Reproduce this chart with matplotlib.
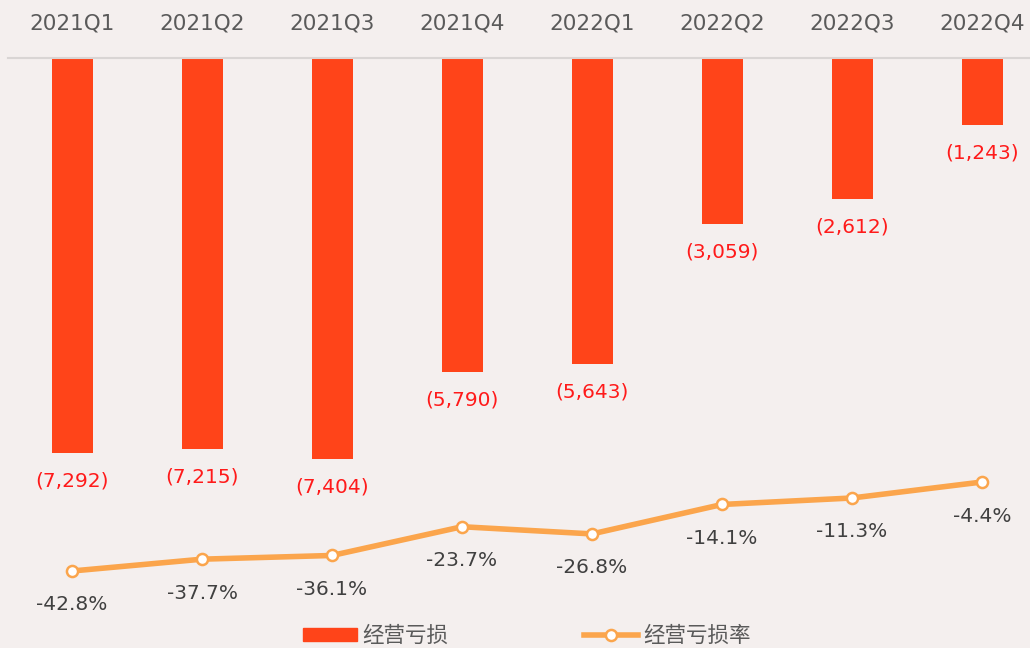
import matplotlib
matplotlib.use("Agg")
import matplotlib.pyplot as plt
from matplotlib.lines import Line2D
from matplotlib.patches import Patch

plt.rcParams["font.family"] = ["DejaVu Sans", "Noto Sans CJK SC"]

quarters = ["2021Q1", "2021Q2", "2021Q3", "2021Q4", "2022Q1", "2022Q2", "2022Q3", "2022Q4"]
op_loss = [-7292, -7215, -7404, -5790, -5643, -3059, -2612, -1243]
loss_rate = [-42.8, -37.7, -36.1, -23.7, -26.8, -14.1, -11.3, -4.4]

BG = "#f4efee"; BAR = "#ff4419"; LINE = "#fba54c"; RED = "#ff1a1a"; INK = "#404040"; TICK = "#5a5a5a"

W, H = 1030, 648
fig = plt.figure(figsize=(W / 100, H / 100), dpi=100, facecolor=BG)
ax = fig.add_axes([0, 0, 1, 1])
ax.set_facecolor(BG)
for s in ax.spines.values():
    s.set_visible(False)

x = list(range(len(quarters)))
# pixel mapping: bar centres at 72 + 130*i, zero line at y=58 px
px_per_x = 130.0
ax.set_xlim(-72 / px_per_x, (W - 72) / px_per_x)
u_per_px = 7292 / (453 - 58)
ax.set_ylim(-(H - 58) * u_per_px, 58 * u_per_px)

ax.bar(x, op_loss, width=41 / px_per_x, color=BAR, zorder=2)
ax.axhline(0, xmin=8 / W, xmax=1, color="#d9d5d4", lw=1.5, zorder=3)
for i, v in enumerate(op_loss):
    ax.annotate(f"({abs(v):,})", (i, v), xytext=(0, -28), textcoords="offset pixels",
                ha="center", va="center", fontsize=14.5, color=RED)
ax.set_xticks(x)
ax.set_xticklabels(quarters, fontsize=15.5, color=TICK)
ax.xaxis.tick_top()
ax.tick_params(axis="x", length=0, pad=-24)
ax.set_yticks([])

ax2 = ax.twinx()
for s in ax2.spines.values():
    s.set_visible(False)
pct_per_px = (42.8 - 4.4) / (571 - 482)
zero_px = 482 - 4.4 / pct_per_px
ax2.set_ylim(-(H - zero_px) * pct_per_px, zero_px * pct_per_px)
ax2.set_yticks([])
ax2.plot(x, loss_rate, color=LINE, lw=4, marker="o", ms=8, mfc="white", mec=LINE, mew=1.8,
         zorder=4, solid_capstyle="round")
for i, v in enumerate(loss_rate):
    ax2.annotate(f"{v:.1f}%", (i, v), xytext=(0, -34), textcoords="offset pixels",
                 ha="center", va="center", fontsize=14.5, color=INK)

handles = [Patch(color=BAR),
           Line2D([], [], color=LINE, lw=4, marker="o", ms=8, mfc="white", mec=LINE, mew=1.8)]
leg = fig.legend(handles, ["经营亏损", "经营亏损率"], loc="center", bbox_to_anchor=(527 / W, 1 - 636 / H),
                 ncol=2, frameon=False, fontsize=15.5, handlelength=2.5, handleheight=0.6,
                 handletextpad=0.25, columnspacing=6.3)
for t in leg.get_texts():
    t.set_color(TICK)
    t.set_family(["Noto Sans CJK SC", "DejaVu Sans"])

fig.savefig("out.png", dpi=100, facecolor=BG)
